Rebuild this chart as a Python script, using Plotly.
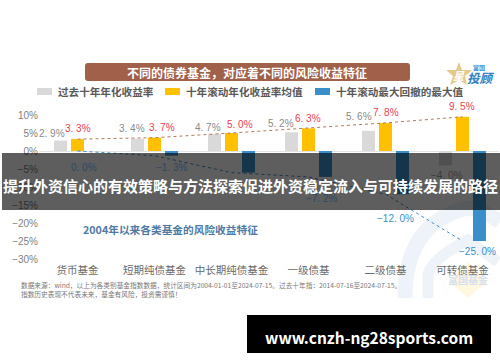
import plotly.graph_objects as go

W, H = 500, 362
L, R, T, B = 39, 499, 115, 259

categories = ["货币基金", "短期纯债基金", "中长期纯债基金", "一级债基", "二级债基", "可转债基金"]
past_return = [2.9, 3.4, 4.7, 5.2, 5.6, -4.0]
rolling_return = [3.3, 3.7, 5.0, 6.3, 7.8, 9.5]
max_drawdown = [0.0, -1.3, -6.0, -7.2, -12.0, -25.0]
y_ticks = [10, 5, 0, -5, -10, -15, -20, -25, -30]
names = ["过去十年年化收益率", "十年滚动年化收益率均值", "十年滚动最大回撤的最大值"]
colors = ["#D9D9D9", "#FFC000", "#3A8FCB"]

# label offsets in pixels from each bar end (dx, dy)
gray_shift = [(-8.5, 7), (-5.5, 10), (-6.5, 7), (-10.5, 9), (-9.5, 14), (1.5, -10)]
gold_shift = [(0, 10.6), (7, 10), (8, 8.5), (-1, 10), (0, 10), (-1, 10)]
blue_shift = [(-10.5, -16.5), (0.5, -11.8), None, (-3.5, -21.6), (-6.5, -24.3), (-1.5, -10.5)]
blue_label_colors = ["#2A4A63", "#2A4A63", None, "#2A4A63", "#3A8FCB", "#3A8FCB"]
gray_label_colors = ["#8A8A8A"] * 5 + ["#3A3A3A"]

x = list(range(len(categories)))
CJK = "Noto Sans CJK SC"
NUM = "Liberation Sans, Noto Sans CJK SC"

fig = go.Figure()
for name, vals, color in zip(names, [past_return, rolling_return, max_drawdown], colors):
    fig.add_bar(x=x, y=vals, name=name, marker_color=color, marker_line_width=0, showlegend=False)
fig.add_scatter(x=x, y=rolling_return, mode="lines", line=dict(color="#B5785F", width=1, dash="dot"),
                showlegend=False, hoverinfo="skip")
fig.add_scatter(x=x, y=max_drawdown, mode="lines", line=dict(color="#3A8FCB", width=1, dash="dot"),
                showlegend=False, hoverinfo="skip")

ann = []


def label(xi, v, shift, color):
    if shift is None:
        return
    ann.append(dict(x=xi, y=v, xref="x", yref="y", text=f"{v:.1f}%".replace("-", "−").replace(".", ". "),
                    showarrow=False, xshift=shift[0], yshift=shift[1], yanchor="middle",
                    font=dict(family=NUM, size=10, color=color)))


for i in x:
    label(i - 0.22, past_return[i], gray_shift[i], gray_label_colors[i])
    label(i, rolling_return[i], gold_shift[i], "#F0404A")
    label(i + 0.22, max_drawdown[i], blue_shift[i], blue_label_colors[i])


def px(xp):
    return (xp - L) / (R - L)


def py(yp):
    return (B - yp) / (B - T)


def text(xp, yp, s, size, color, anchor="center", weight=None):
    ann.append(dict(x=px(xp), y=py(yp), xref="paper", yref="paper", text=s, showarrow=False, xanchor=anchor,
                    yanchor="middle", font=dict(family=CJK, size=size, color=color, weight=weight)))


def rect(x0, y0, x1, y1, fill, layer="above", radius=None):
    if radius:
        path = (f"M {px(x0 + radius)} {py(y0)} L {px(x1 - radius)} {py(y0)} Q {px(x1)} {py(y0)} {px(x1)} {py(y0 + radius)} "
                f"L {px(x1)} {py(y1 - radius)} Q {px(x1)} {py(y1)} {px(x1 - radius)} {py(y1)} "
                f"L {px(x0 + radius)} {py(y1)} Q {px(x0)} {py(y1)} {px(x0)} {py(y1 - radius)} "
                f"L {px(x0)} {py(y0 + radius)} Q {px(x0)} {py(y0)} {px(x0 + radius)} {py(y0)} Z")
        return dict(type="path", xref="paper", yref="paper", path=path, fillcolor=fill, line_width=0, layer=layer)
    return dict(type="rect", xref="paper", yref="paper", x0=px(x0), x1=px(x1), y0=py(y1), y1=py(y0),
                fillcolor=fill, line_width=0, layer=layer)


def stroke(points, color, width):
    out = []
    for p in points:
        if p[0] == "Q":
            out.append(f"Q {px(p[1])} {py(p[2])} {px(p[3])} {py(p[4])}")
        else:
            out.append(f"L {px(p[0])} {py(p[1])}" if out else f"M {px(p[0])} {py(p[1])}")
    return dict(type="path", xref="paper", yref="paper", path=" ".join(out),
                line=dict(color=color, width=width), layer="below")


def poly(points, fill):
    path = "M " + " L ".join(f"{px(a)} {py(b)}" for a, b in points) + " Z"
    return dict(type="path", xref="paper", yref="paper", path=path, fillcolor=fill, line_width=0, layer="below")


WM = "#EDF3F8"
shapes = [
    stroke([(405, 298), ("Q", 405, 222, 468, 208), ("Q", 488, 212, 500, 222)], WM, 15),
    stroke([(428, 298), (428, 275), ("Q", 432, 258, 468, 240), (498, 262)], WM, 11),
    poly([(468, 262), (487, 282), (468, 298), (449, 282)], "#FFF7E0"),
    poly([(459, 62), (462, 70), (472, 70), (465, 76), (467, 85), (459, 80), (450, 85), (453, 76), (446, 70), (456, 70)], "#E6C98A"),
    rect(85, 63, 410, 81, "#A0604A", radius=3),
    rect(37, 88, 52, 95, colors[0]),
    rect(165, 88, 180, 95, colors[1]),
    rect(315, 88, 330, 95, colors[2]),
    rect(2, 153, 500, 210, "rgba(0,0,0,0.63)"),
    rect(247, 315, 491, 353, "#000000"),
]

text(468, 279, "富国基金", 10, "#D5E1EC", weight="bold")
text(247, 72, "不同的债券基金，对应着不同的风险收益特征", 12, "#FFFFFF", weight="bold")
text(56, 91.5, names[0], 10.6, "#595959", "left", "bold")
text(184, 91.5, names[1], 10.6, "#595959", "left", "bold")
text(334, 91.5, names[2], 10.6, "#595959", "left", "bold")
text(170, 229, "2004年以来各类基金的风险收益特征", 10.7, "#4F7AA3", weight="bold")
text(250, 185, "提升外资信心的有效策略与方法探索促进外资稳定流入与可持续发展的路径", 15, "#FFFFFF", weight="bold")
text(369, 337, "www.cnzh-ng28sports.com", 15.5, "#FFFFFF", weight="bold")
text(19, 285, "数据来源：wind，以上为各类别基金指数数据，统计区间为2004-01-01至2024-07-15。过去十年指：2014-07-16至2024-07-15。", 6.7, "#777777", "left")
text(19, 294, "指数历史表现不代表未来，基金有风险，投资需谨慎！", 6.7, "#777777", "left")
text(479, 67, "富国", 6, "#3A8FCB", weight="bold")
text(481, 77, "<i>投顾</i>", 12.5, "#2F7FC1", weight="bold")
text(459, 75, "<i>星</i>", 11, "#FFFFFF", weight="bold")

fig.update_layout(
    width=W, height=H, margin=dict(l=L, r=W - R, t=T, b=H - B), autosize=False,
    paper_bgcolor="white", plot_bgcolor="rgba(0,0,0,0)", barmode="group", bargap=0.338, bargroupgap=0.235,
    showlegend=False, shapes=shapes, annotations=ann,
    font=dict(family=CJK),
    xaxis=dict(range=[-0.5, 5.474], tickmode="array", tickvals=x, ticktext=categories, showgrid=False, zeroline=False,
               showline=False, ticks="", tickfont=dict(size=10.5, color="#6A6A6A"), ticklabelstandoff=3),
    yaxis=dict(range=[-30, 10], tickmode="array", tickvals=y_ticks, ticktext=[f"{v}%".replace("-", "−") for v in y_ticks],
               showgrid=False, zeroline=True, zerolinecolor="#E3E3E3", zerolinewidth=1, showline=False, ticks="",
               tickfont=dict(size=10, color="#7F7F7F", family=NUM)),
)
fig.write_html("out.html", config=dict(displayModeBar=False),
               post_script="document.body.style.margin='0';document.documentElement.style.overflow='hidden';")
